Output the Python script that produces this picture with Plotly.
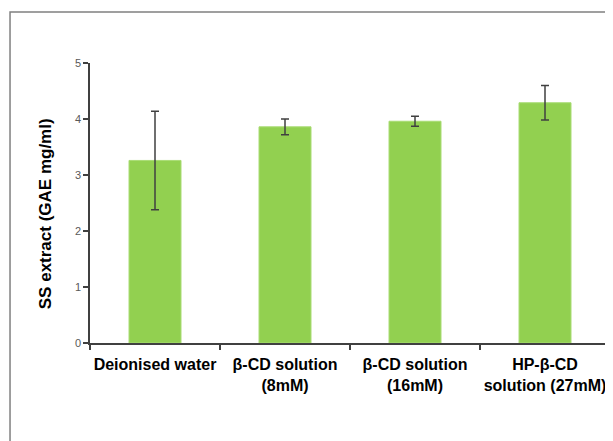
import plotly.graph_objects as go

categories = ["Deionised water", "β-CD solution<br>(8mM)", "β-CD solution<br>(16mM)", "HP-β-CD<br>solution (27mM)"]
values = [3.26, 3.86, 3.96, 4.29]
errors = [0.88, 0.14, 0.09, 0.31]
y_ticks = [0, 1, 2, 3, 4, 5]
y_title = "SS extract (GAE mg/ml)"

fig = go.Figure()
fig.add_trace(go.Bar(
    x=categories, y=values,
    marker=dict(color="#92D050", line=dict(color="#A9DC74", width=1)),
    error_y=dict(type="data", array=errors, visible=True, color="#404040", thickness=1.5, width=4),
))

fig.update_layout(
    width=605, height=433,
    margin=dict(l=82, r=3, t=55, b=98),
    paper_bgcolor="white", plot_bgcolor="white",
    bargap=0.6,
    showlegend=False,
    font=dict(family="Liberation Sans, Arial, sans-serif"),
    shapes=[dict(type="rect", xref="paper", yref="paper",
                 x0=-0.1538, x1=1.3, y0=-1.0, y1=1.182,
                 line=dict(color="#808080", width=1.5), layer="below")],
    annotations=[dict(text=y_title, textangle=-90, xref="paper", yref="paper",
                      x=-0.0865, y=0.46, xanchor="center", yanchor="middle", showarrow=False,
                      font=dict(size=17, color="black", weight="bold"))],
)
fig.update_xaxes(
    type="category", showline=True, linecolor="#404040", linewidth=1.5,
    ticks="outside", tickson="boundaries", ticklen=5, tickcolor="#404040", tickwidth=1.5,
    tickangle=0, ticklabelstandoff=6,
    tickfont=dict(size=16, color="black", family="Liberation Sans, Arial, sans-serif", weight="bold"),
    showgrid=False, automargin=False,
)
fig.update_yaxes(
    range=[0, 5], tickvals=y_ticks, showline=True, linecolor="#404040", linewidth=1.5,
    ticks="outside", ticklen=5, tickcolor="#404040", tickwidth=1.5,
    tickfont=dict(size=11, color="#595959"),
    showgrid=False, zeroline=False, automargin=False,
)

fig.write_html("out.html")
